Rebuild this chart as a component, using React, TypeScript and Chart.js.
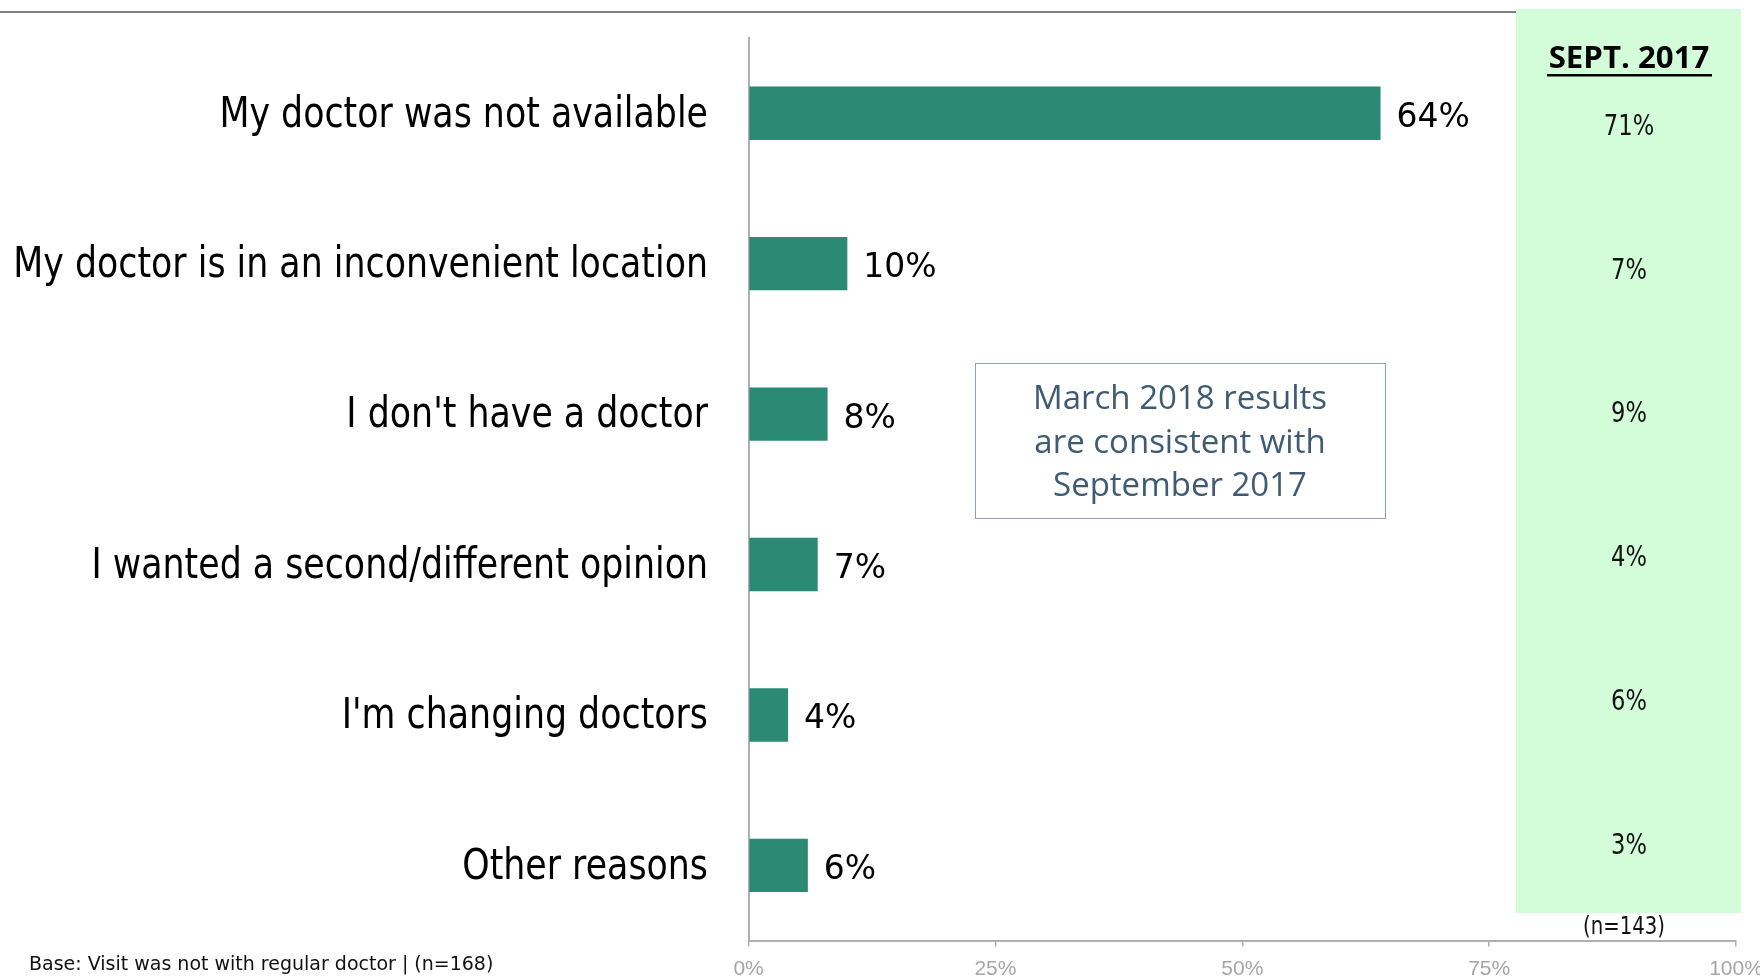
import React, { useEffect, useRef } from 'react';
import { Chart, registerables } from 'chart.js';

Chart.register(...registerables);

const CATEGORIES = [
  'My doctor was not available',
  'My doctor is in an inconvenient location',
  "I don't have a doctor",
  'I wanted a second/different opinion',
  "I'm changing doctors",
  'Other reasons',
];
const MARCH_2018 = [64, 10, 8, 7, 4, 6];
const SEPT_2017 = [71, 7, 9, 4, 6, 3];
const X_TICKS = [0, 25, 50, 75, 100];
const PANEL_TITLE = 'SEPT. 2017';
const PANEL_BASE = '(n=143)';
const NOTE_LINES = ['March 2018 results', 'are consistent with', 'September 2017'];
const FOOTNOTE = 'Base: Visit was not with regular doctor | (n=168)';

const BAR_COLOR = '#2A8A73';
const PANEL_COLOR = '#D3FDD8';
const AXIS_COLOR = '#B0B0B0';

function drawText(
  ctx: CanvasRenderingContext2D,
  s: string,
  x: number,
  y: number,
  font: string,
  color: string,
  align: CanvasTextAlign,
  sx: number
) {
  ctx.save();
  ctx.font = font;
  ctx.fillStyle = color;
  ctx.textBaseline = 'alphabetic';
  ctx.textAlign = align;
  ctx.translate(x, y);
  ctx.scale(sx, 1);
  ctx.fillText(s, 0, 0);
  ctx.restore();
}

const decorPlugin = {
  id: 'decor',
  beforeDraw(chart: any) {
    const ctx: CanvasRenderingContext2D = chart.ctx;
    ctx.save();
    ctx.fillStyle = '#ffffff';
    ctx.fillRect(0, 0, chart.width, chart.height);
    // top rule
    ctx.fillStyle = '#808080';
    ctx.fillRect(0, 11, 1516, 2);
    // comparison panel
    ctx.fillStyle = PANEL_COLOR;
    ctx.fillRect(1516, 9, 225, 904);
    ctx.restore();
  },
  afterDraw(chart: any) {
    const ctx: CanvasRenderingContext2D = chart.ctx;
    const yScale = chart.scales.y;
    const meta = chart.getDatasetMeta(0);

    // category labels
    CATEGORIES.forEach((c, i) => {
      const cy = yScale.getPixelForValue(i);
      drawText(ctx, c, 708, cy + 13.4, '43.5px "DejaVu Sans"', '#000000', 'right', 0.8);
    });

    // value labels
    meta.data.forEach((bar: any, i: number) => {
      drawText(ctx, MARCH_2018[i] + '%', bar.x + 16, bar.y + 13.5, '33px "DejaVu Sans"', '#000000', 'left', 1.0);
    });

    // panel
    const pcx = 1629;
    drawText(ctx, PANEL_TITLE, pcx, 68.3, 'bold 30px "Open Sans"', '#000000', 'center', 1.04);
    ctx.save();
    ctx.fillStyle = '#000000';
    ctx.fillRect(1547, 74, 165, 2.5);
    ctx.restore();
    SEPT_2017.forEach((v, i) => {
      drawText(ctx, v + '%', pcx, 135 + i * 143.7, '29px "DejaVu Sans"', '#111111', 'center', 0.78);
    });
    drawText(ctx, PANEL_BASE, 1624, 934, '24px "DejaVu Sans"', '#111111', 'center', 0.82);

    // note box
    ctx.save();
    ctx.fillStyle = '#ffffff';
    ctx.fillRect(975.5, 363.5, 410, 155);
    ctx.strokeStyle = '#8FA0B0';
    ctx.lineWidth = 1;
    ctx.strokeRect(975.5, 363.5, 410, 155);
    ctx.restore();
    NOTE_LINES.forEach((l, i) => {
      drawText(ctx, l, 1180, 409 + i * 43.5, '33px "Open Sans"', '#3F5B74', 'center', 1);
    });

    // footnote
    drawText(ctx, FOOTNOTE, 29, 970, '20px "DejaVu Sans"', '#111111', 'left', 0.95);
  },
};

export default function App() {
  const ref = useRef<HTMLCanvasElement | null>(null);

  useEffect(() => {
    if (!ref.current) return;
    const chart = new Chart(ref.current, {
      type: 'bar',
      data: {
        labels: CATEGORIES,
        datasets: [
          {
            label: 'March 2018',
            data: MARCH_2018,
            backgroundColor: BAR_COLOR,
            borderWidth: 0,
            barPercentage: 0.355,
            categoryPercentage: 1,
          },
        ],
      },
      options: {
        indexAxis: 'y',
        responsive: false,
        devicePixelRatio: 1,
        animation: false,
        layout: { padding: { left: 748.6, top: 38, right: 24, bottom: 0 } },
        plugins: { legend: { display: false }, tooltip: { enabled: false } },
        scales: {
          x: {
            type: 'linear',
            min: 0,
            max: 100,
            afterBuildTicks: (s: any) => {
              s.ticks = X_TICKS.map((v) => ({ value: v }));
            },
            afterFit: (s: any) => {
              s.paddingLeft = 0;
              s.paddingRight = 0;
              s.height = 35.4;
            },
            grid: {
              display: true,
              drawOnChartArea: false,
              drawTicks: true,
              tickLength: 6,
              color: AXIS_COLOR,
              lineWidth: 1.5,
            },
            border: { display: true, color: AXIS_COLOR, width: 2 },
            ticks: {
              padding: 10.2,
              color: '#A6A6A6',
              maxRotation: 0,
              font: { family: '"Liberation Sans Narrow", "Liberation Sans", sans-serif', size: 21 },
              callback: (v: any) => v + '%',
            },
          },
          y: {
            type: 'category',
            offset: true,
            grid: { display: false, drawTicks: false },
            border: { display: true, color: AXIS_COLOR, width: 2 },
            ticks: { display: false },
          },
        },
      },
      plugins: [decorPlugin],
    });
    return () => chart.destroy();
  }, []);

  return (
    <div style={{ position: 'fixed', left: 0, top: 0, width: 1760, height: 976, background: '#fff' }}>
      <canvas ref={ref} width={1760} height={976} style={{ display: 'block', width: 1760, height: 976 }} />
    </div>
  );
}
